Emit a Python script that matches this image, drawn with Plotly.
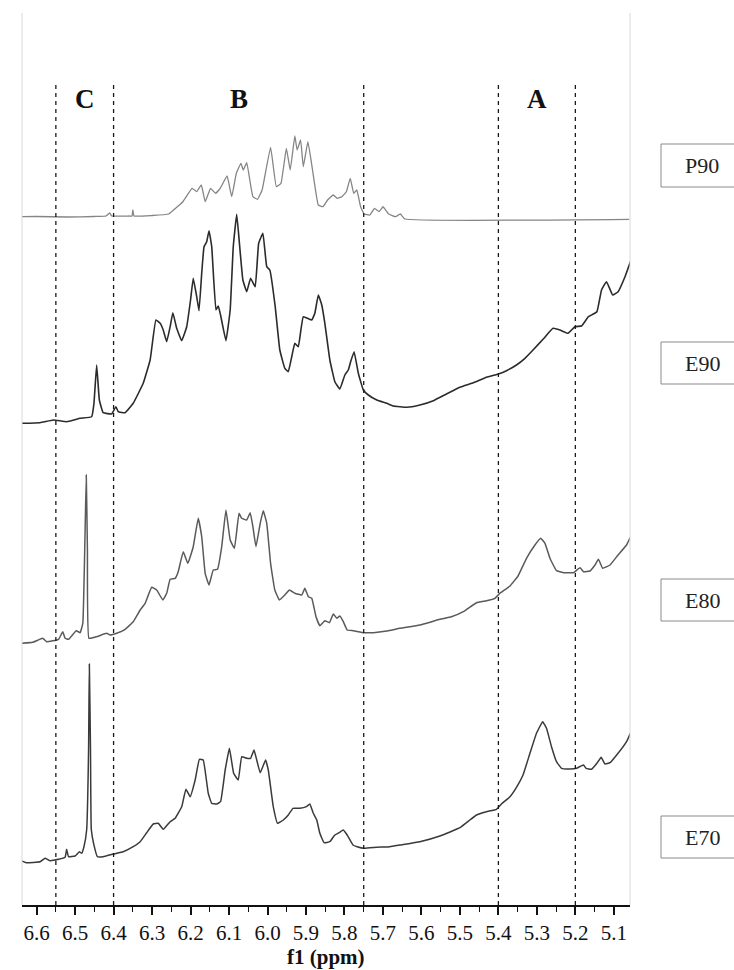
import plotly.graph_objects as go

# ---------------- data (ppm, stacked intensity in arbitrary units) ----------------
p90_ppm = [6.64, 6.60, 6.52, 6.45, 6.42, 6.41, 6.405, 6.36, 6.352, 6.35, 6.347, 6.30, 6.257,
           6.22, 6.196, 6.184, 6.172, 6.162, 6.148, 6.135, 6.123, 6.105, 6.093, 6.081, 6.069,
           6.063, 6.054, 6.038, 6.026, 6.014, 5.992, 5.977, 5.965, 5.951, 5.941, 5.929, 5.923,
           5.914, 5.907, 5.895, 5.883, 5.868, 5.856, 5.844, 5.829, 5.819, 5.807, 5.795, 5.785,
           5.776, 5.768, 5.758, 5.749, 5.734, 5.722, 5.710, 5.700, 5.685, 5.667, 5.655, 5.643, 5.06]
p90_int = [688.3, 688.5, 688, 688.5, 689, 692, 689, 689, 689, 695, 689, 689.5, 691,
           703.3, 716.7, 713.3, 720, 703.3, 716.7, 711.7, 716.7, 729, 708.3, 731.7, 741.7,
           735, 742.3, 708.3, 705.7, 715, 757.7, 718.3, 721.7, 756.7, 735, 769, 755,
           765, 738.3, 763.3, 735, 700, 698.3, 705, 710, 706.7, 708.3, 713.3, 726.7,
           711.7, 715, 698.3, 691, 690, 696.7, 693.3, 698.3, 691, 688.3, 691, 686, 685.7]

e90_ppm = [6.64, 6.591, 6.556, 6.522, 6.487, 6.457, 6.451, 6.444, 6.437, 6.427, 6.405, 6.394,
           6.388, 6.370, 6.349, 6.323, 6.305, 6.290, 6.279, 6.271, 6.262, 6.253, 6.246, 6.236,
           6.223, 6.210, 6.200, 6.193, 6.184, 6.178, 6.171, 6.165, 6.158, 6.152, 6.145, 6.134,
           6.128, 6.122, 6.108, 6.097, 6.089, 6.080, 6.073, 6.064, 6.054, 6.044, 6.032, 6.023,
           6.012, 6.002, 5.994, 5.980, 5.968, 5.955, 5.946, 5.937, 5.929, 5.920, 5.907, 5.885,
           5.877, 5.868, 5.859, 5.851, 5.838, 5.825, 5.812, 5.799, 5.790, 5.784, 5.775, 5.764,
           5.751, 5.738, 5.716, 5.690, 5.673, 5.638, 5.604, 5.569, 5.535, 5.500, 5.465, 5.431,
           5.400, 5.379, 5.353, 5.331, 5.310, 5.284, 5.258, 5.240, 5.219, 5.201, 5.184, 5.166,
           5.144, 5.132, 5.119, 5.103, 5.089, 5.071, 5.057]
e90_int = [481.7, 482.3, 485, 483.3, 486.7, 488.3, 501.7, 540, 505, 492.3, 491, 498.3,
           493.3, 492.3, 501.7, 521.7, 545, 585, 581.7, 575, 563.3, 578.3, 592.3, 576.7,
           564.3, 578.3, 605, 626.7, 608.3, 594.3, 631.7, 658.3, 663.3, 674.3, 658.3, 595,
           599, 590, 564.3, 595, 658.3, 690.7, 661.7, 625, 613.3, 626.7, 618.3, 661.7,
           671.7, 638.3, 635, 598.3, 555, 536.7, 533.3, 548.3, 561.7, 558.3, 588.3, 585,
           591.7, 610, 600, 581.7, 545, 523.3, 516, 530, 535, 543.3, 553.3, 531.7,
           515, 510, 505, 501.7, 499, 497.7, 500, 504.3, 511, 517.7, 522.3, 527.7,
           531, 534.3, 540, 546.7, 555, 565.7, 576.7, 575, 571.7, 578.3, 579, 588.3,
           593.3, 615, 623.3, 610, 613.3, 628.3, 643.3]

e80_ppm = [6.64, 6.61, 6.584, 6.574, 6.543, 6.532, 6.526, 6.517, 6.497, 6.487, 6.480, 6.475,
           6.471, 6.468, 6.464, 6.444, 6.418, 6.409, 6.392, 6.370, 6.349, 6.331, 6.318, 6.301,
           6.288, 6.272, 6.262, 6.253, 6.240, 6.232, 6.219, 6.207, 6.193, 6.180, 6.171, 6.162,
           6.152, 6.141, 6.130, 6.119, 6.108, 6.097, 6.086, 6.074, 6.067, 6.054, 6.045, 6.038,
           6.030, 6.019, 6.011, 6.002, 5.992, 5.981, 5.969, 5.955, 5.943, 5.929, 5.911, 5.903,
           5.894, 5.885, 5.874, 5.864, 5.851, 5.839, 5.829, 5.820, 5.812, 5.803, 5.793, 5.777,
           5.749, 5.725, 5.690, 5.656, 5.604, 5.552, 5.522, 5.491, 5.457, 5.431, 5.409, 5.396,
           5.370, 5.349, 5.327, 5.305, 5.290, 5.279, 5.266, 5.249, 5.231, 5.205, 5.188, 5.179,
           5.162, 5.149, 5.140, 5.129, 5.110, 5.089, 5.067, 5.057]
e80_int = [261.7, 262.7, 266.7, 263.3, 265.7, 273.3, 266.7, 265.7, 274.3, 272.3, 281.7, 355,
           430, 355, 266.7, 268.3, 271.7, 270, 271.7, 275.7, 283.3, 295, 301.7, 317.7,
           315, 305, 311.7, 325.7, 326.7, 333.3, 353.3, 341.7, 358.3, 386.7, 368.3, 331.7,
           320, 335, 335.7, 358.3, 395, 365, 356.7, 391.7, 386.7, 385, 392.3, 378.3,
           358.3, 381.7, 394.3, 381.7, 341.7, 315, 305, 310, 315, 311.7, 310, 316.7,
           308.3, 306.7, 288.3, 279.3, 284.3, 282.3, 291, 286.7, 289, 283.3, 275, 274.3,
           272.3, 272.3, 274, 276.7, 280, 285.7, 288.3, 293.3, 302.3, 304.3, 306.7, 311.7,
           319, 329, 346.7, 360, 366.7, 361.7, 346.7, 334.3, 332.3, 332.3, 337.3, 333.3,
           334, 340, 345.7, 336.7, 340, 350, 360, 367.7]

e70_ppm = [6.64, 6.627, 6.591, 6.578, 6.565, 6.543, 6.526, 6.522, 6.517, 6.500, 6.489, 6.483,
           6.477, 6.470, 6.465, 6.463, 6.460, 6.458, 6.452, 6.442, 6.427, 6.401, 6.375, 6.349,
           6.331, 6.314, 6.297, 6.284, 6.271, 6.253, 6.240, 6.223, 6.212, 6.201, 6.188, 6.177,
           6.167, 6.154, 6.145, 6.132, 6.122, 6.110, 6.099, 6.088, 6.076, 6.067, 6.054, 6.044,
           6.035, 6.028, 6.019, 6.005, 5.998, 5.985, 5.974, 5.959, 5.946, 5.934, 5.916, 5.899,
           5.890, 5.881, 5.872, 5.864, 5.853, 5.838, 5.825, 5.814, 5.803, 5.793, 5.778, 5.767,
           5.749, 5.716, 5.682, 5.656, 5.604, 5.552, 5.500, 5.474, 5.457, 5.431, 5.405, 5.392,
           5.370, 5.353, 5.336, 5.318, 5.301, 5.285, 5.275, 5.262, 5.249, 5.236, 5.214, 5.197,
           5.179, 5.172, 5.158, 5.144, 5.133, 5.123, 5.110, 5.089, 5.067, 5.057]
e70_int = [44.3, 42.3, 43.3, 46.7, 44.3, 45.7, 47.7, 55.7, 48.3, 49, 53.3, 51.7,
           58.3, 75, 155, 241, 155, 75.7, 61.7, 48.3, 48.3, 51, 53.3, 58.3,
           63.3, 72.3, 81, 81.7, 75.7, 83.3, 86.7, 98.3, 115.7, 108.3, 125, 145.7,
           145, 111.7, 101.7, 101, 103.3, 135, 156.7, 131.7, 125, 148.3, 146.7, 146.7,
           155, 145, 132.3, 145, 135, 98.3, 81.7, 85, 90, 96.7, 96.7, 98.3,
           101, 91.7, 85, 71.7, 62.3, 63.3, 70, 72.3, 75, 70, 60, 58.3,
           56.7, 57.7, 58.3, 60, 63.3, 69, 77.3, 85, 90, 93.3, 95.7, 101,
           108.3, 117.7, 130, 151.7, 171.7, 183.3, 176.7, 158.3, 143.3, 136.7, 136, 136.7,
           140, 136.7, 135.7, 141.7, 147.7, 141, 142.3, 151.7, 163.3, 171.7]

sample_names = ["P90", "E90", "E80", "E70"]
region_bounds = [6.55, 6.40, 5.75, 5.40, 5.20]
region_letters = ["C", "B", "A"]
region_centers = [6.475, 6.075, 5.30]
tick_vals = [6.6, 6.5, 6.4, 6.3, 6.2, 6.1, 6.0, 5.9, 5.8, 5.7, 5.6, 5.5, 5.4, 5.3, 5.2, 5.1]
tick_text = ["6.6", "6.5", "6.4", "6.3", "6.2", "6.1", "6.0", "5.9", "5.8", "5.7",
             "5.6", "5.5", "5.4", "5.3", "5.2", "5.1"]

# ---------------- layout geometry (pixels) ----------------
W, H = 734, 970
L, R, T, B = 22, 630, 13, 905
PH = B - T


def py2paper(py):
    return (B - py) / PH


def px2paper(px):
    return (px - L) / (R - L)


fig = go.Figure()
series = [
    (p90_ppm, p90_int, "#858585", 1.3),
    (e90_ppm, e90_int, "#2b2b2b", 1.6),
    (e80_ppm, e80_int, "#5a5a5a", 1.5),
    (e70_ppm, e70_int, "#3a3a3a", 1.5),
]
for name, (xs, ys, col, w) in zip(sample_names, series):
    fig.add_trace(go.Scatter(x=xs, y=ys, mode="lines", name=name,
                             line=dict(color=col, width=w, shape="spline", smoothing=0.3),
                             showlegend=False, hoverinfo="skip"))

shapes = []
dash_top = B - 85
for xb in region_bounds:
    shapes.append(dict(type="line", xref="x", yref="y", x0=xb, x1=xb, y0=0, y1=dash_top,
                       line=dict(color="#1a1a1a", width=1.3, dash="4px,4px")))
# light frame lines on both sides
for xp in [0, 1]:
    shapes.append(dict(type="line", xref="paper", yref="paper", x0=xp, x1=xp, y0=0, y1=1,
                       line=dict(color="#d8d8d8", width=1)))

annotations = []
for letter, xc in zip(region_letters, region_centers):
    annotations.append(dict(x=xc, xref="x", y=py2paper(99), yref="paper", text=f"<b>{letter}</b>",
                            showarrow=False, font=dict(family="Liberation Serif", size=27, color="#111"),
                            xanchor="center", yanchor="middle"))

# sample label boxes
box_rows = [(144, 187), (342, 384), (579, 621), (816, 858)]
bx0, bx1 = 661, 743
for name, (y0, y1) in zip(sample_names, box_rows):
    shapes.append(dict(type="rect", xref="paper", yref="paper",
                       x0=px2paper(bx0), x1=px2paper(bx1), y0=py2paper(y1), y1=py2paper(y0),
                       line=dict(color="#8a8a8a", width=1), fillcolor="white", layer="above"))
    annotations.append(dict(x=px2paper(702), xref="paper", y=py2paper((y0 + y1) / 2), yref="paper",
                            text=name, showarrow=False,
                            font=dict(family="Liberation Serif", size=22, color="#222"),
                            xanchor="center", yanchor="middle"))

annotations.append(dict(x=0.5, xref="paper", y=py2paper(957), yref="paper", text="<b>f1 (ppm)</b>",
                        showarrow=False, font=dict(family="Liberation Serif", size=21, color="#111"),
                        xanchor="center", yanchor="middle"))

fig.update_layout(
    width=W, height=H,
    margin=dict(l=L, r=W - R, t=T, b=H - B),
    paper_bgcolor="white", plot_bgcolor="white",
    shapes=shapes, annotations=annotations,
    xaxis=dict(range=[6.638, 5.058], showgrid=False, zeroline=False,
               showline=True, linecolor="#111", linewidth=2,
               ticks="outside", ticklen=8, tickwidth=1.5, tickcolor="#111",
               tickvals=tick_vals, ticktext=tick_text,
               tickfont=dict(family="Liberation Serif", size=21, color="#111"),
               minor=dict(dtick=0.05, ticks="outside", ticklen=5, tickwidth=1.2, tickcolor="#111",
                          tick0=6.6, showgrid=False)),
    yaxis=dict(range=[0, PH], visible=False, showgrid=False, zeroline=False, fixedrange=True),
)

fig.write_html("out.html")
